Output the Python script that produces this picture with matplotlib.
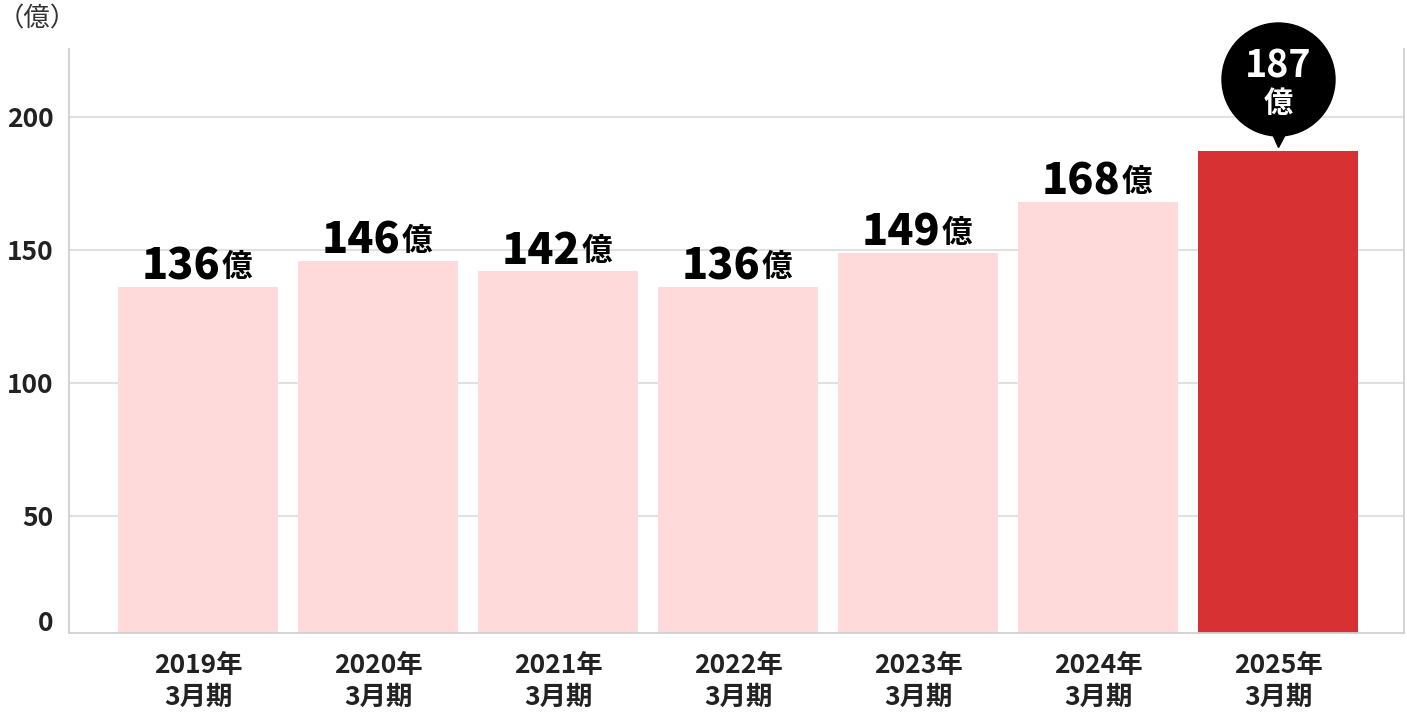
import numpy as np
import matplotlib
matplotlib.use('Agg')
import matplotlib.pyplot as plt
from matplotlib.transforms import offset_copy

plt.rcParams['font.family'] = ['Noto Sans CJK JP', 'DejaVu Sans']

# data
years = ['2019年\n3月期', '2020年\n3月期', '2021年\n3月期', '2022年\n3月期',
         '2023年\n3月期', '2024年\n3月期', '2025年\n3月期']
values = [136, 146, 142, 136, 149, 168, 187]
ytick_vals = [50, 100, 150, 200]
ytick_labels = ['50', '100', '150', '200']

pink = '#FFDADA'
red = '#D73133'
PX = 0.72  # points per pixel at dpi 100

fig = plt.figure(figsize=(14.07, 7.16), dpi=100)
W, H = 1407, 716
ax = fig.add_axes([68.5 / W, (H - 633) / H, (1404 - 68.5) / W, (633 - 49) / H])

x = np.arange(len(values))
colors = [pink] * (len(values) - 1) + [red]
ax.bar(x, values, width=0.889, color=colors, zorder=2)

ax.set_xlim(-0.72, 6.70)
ax.set_ylim(6, 225.5)

# grid + spines
ax.set_yticks(ytick_vals)
ax.set_yticklabels(ytick_labels)
ax.yaxis.grid(True, color='#e0e0e0', linewidth=1.5)
ax.set_axisbelow(True)
for s in ['left', 'right', 'bottom']:
    ax.spines[s].set_color('#d0d0d0')
    ax.spines[s].set_linewidth(1.3)
ax.spines['top'].set_visible(False)
ax.tick_params(axis='y', length=0, pad=11, labelsize=19, labelcolor='#222222')
ax.tick_params(axis='x', length=0, pad=14, labelsize=19, labelcolor='#222222')
for lbl in ax.get_yticklabels():
    lbl.set_fontweight('bold')

# "0" sits a little above the baseline
zero_tr = offset_copy(ax.get_yaxis_transform(), fig=fig, x=0, y=9.5 * PX, units='points')
ax.text(-0.0116, 6, '0', transform=zero_tr, ha='right', va='center', fontsize=19,
        fontweight='bold', color='#222222')

ax.set_xticks(x)
ax.set_xticklabels(years, fontweight='bold', linespacing=1.2)

# value labels
for i, v in enumerate(values[:-1]):
    ax.annotate(str(v), (i, v), xytext=(22 * PX, 7.5 * PX), textcoords='offset points',
                ha='right', va='baseline', fontsize=31, fontweight='black', color='black')
    ax.annotate('億', (i, v), xytext=(24 * PX, 11 * PX), textcoords='offset points',
                ha='left', va='baseline', fontsize=22, fontweight='bold', color='black')

# bubble for the last year
i, v = len(values) - 1, values[-1]
circ_tr = offset_copy(ax.transData, fig=fig, x=0, y=72 * PX, units='points')
ax.plot([i], [v], marker='o', markersize=113 * PX, color='black', transform=circ_tr,
        clip_on=False, zorder=5)
tri_tr = offset_copy(ax.transData, fig=fig, x=0, y=13 * PX, units='points')
ax.plot([i], [v], marker='v', markersize=17 * PX, color='black', transform=tri_tr,
        clip_on=False, zorder=5)
ax.annotate(str(v), (i, v), xytext=(0, 74 * PX), textcoords='offset points',
            ha='center', va='baseline', fontsize=27, fontweight='bold', color='white', zorder=6)
ax.annotate('億', (i, v), xytext=(0, 39 * PX), textcoords='offset points',
            ha='center', va='baseline', fontsize=21, fontweight='bold', color='white', zorder=6)

# unit label
fig.text(37 / W, 1 - 19 / H, '（億）', ha='center', va='center', fontsize=19, color='#333333')

fig.savefig('out.png', dpi=100)
